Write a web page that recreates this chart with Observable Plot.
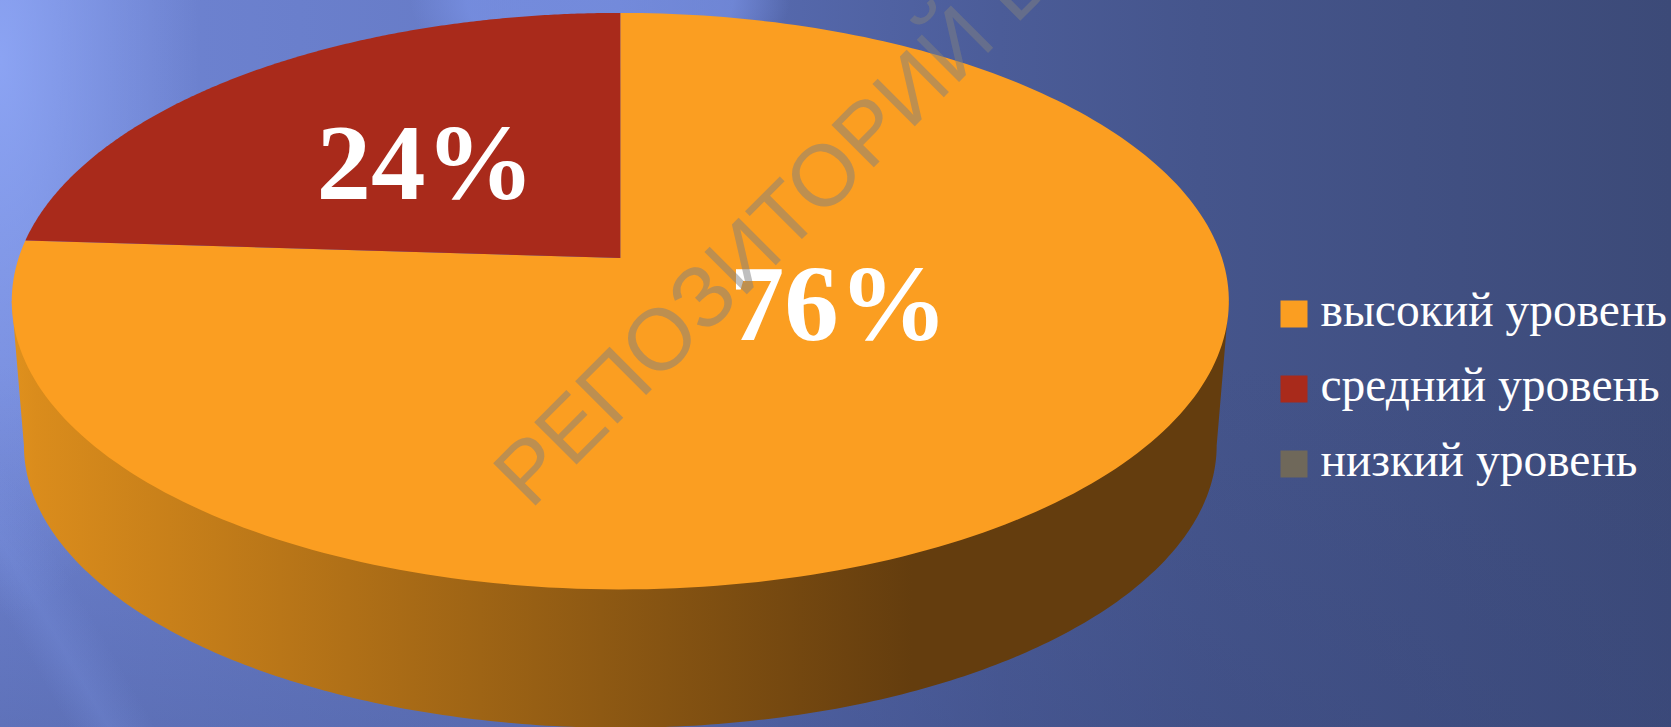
<!DOCTYPE html>
<html lang="ru">
<head>
<meta charset="utf-8">
<script src="https://cdn.jsdelivr.net/npm/d3@7"></script>
<script src="https://cdn.jsdelivr.net/npm/@observablehq/plot@0.6"></script>
<style>html,body{margin:0;padding:0;background:#3c4a78;overflow:hidden}svg{display:block}</style>
</head>
<body>
<div id="chart"></div>
<script>
const categories = ["высокий уровень", "средний уровень", "низкий уровень"];
const shares = [76, 24, 0];
const sliceColors = ["#fb9e21", "#a92a1b", "#6f685a"];
const watermark = "РЕПОЗИТОРИЙ БГПУ";

// perspective disc: unit circle seen from above, far side shrunk by k
const k = 0.1497, depth = 0.5146, lowerScale = 0.98;
const project = (deg, r = 1, s = 1, off = 0) => {
  const a = deg * Math.PI / 180, X = r * Math.sin(a), Y = r * Math.cos(a), p = 1 / (1 + k * Y);
  return {x: s * X * p, y: s * Y * p - off};
};
const arc = (a0, a1, s, off) => d3.range(0, 241).map(i => project(a0 + (a1 - a0) * i / 240, 1, s, off));

let acc = 0;
const slices = shares.map((v, i) => {
  const a0 = acc * 3.6; acc += v; const a1 = acc * 3.6;
  return {name: categories[i], value: v, color: sliceColors[i], mid: (a0 + a1) / 2, points: v > 0 ? arc(a0, a1, 1, 0) : []};
});
const rightA = Math.acos(-k) * 180 / Math.PI, leftA = 360 - rightA;
const wall = [project(rightA), ...arc(rightA, leftA, lowerScale, depth), project(leftA)];
const labelShift = [-62, 3, 0];

const defs = () => {
  const d = d3.create("svg:defs");
  const g = d.append("linearGradient").attr("id", "wallGrad").attr("x1", 0).attr("x2", 1).attr("y1", 0).attr("y2", 0);
  [[0, "#e0911d"], [0.02, "#da8c1c"], [0.74, "#643d0e"], [1, "#643d0e"]].forEach(([o, c]) =>
    g.append("stop").attr("offset", o).attr("stop-color", c));
  return d.node();
};

const legendMarks = categories.flatMap((c, i) => [
  Plot.dot([c], {frameAnchor: "top-left", dx: 1293.5, dy: 313.5 + 75 * i, r: 15.23, symbol: "square", fill: sliceColors[i]}),
  Plot.text([c], {frameAnchor: "top-left", dx: 1320, dy: 325 + 75 * i, textAnchor: "start", lineAnchor: "bottom",
    fontFamily: "Liberation Serif", fontSize: 47.5, fill: "white"})
]);

const chart = Plot.plot({
  width: 1671, height: 727, margin: 0,
  x: {axis: null, domain: [-620.3 / 601.7, 1050.7 / 601.7], range: [0, 1671]},
  y: {axis: null, domain: [-469 / 281.8, 258 / 281.8], range: [727, 0]},
  style: {
    background: [
      "linear-gradient(60deg, rgba(125,150,230,0) 60px, rgba(125,150,230,.25) 94px, rgba(125,150,230,0) 135px)",
      "radial-gradient(ellipse 200px 560px at 0px 60px, rgba(150,175,255,.72), rgba(150,175,255,0))",
      "radial-gradient(ellipse 190px 90px at 600px 0px, rgba(125,150,235,.6) 70%, rgba(125,150,235,0) 100%)",
      "linear-gradient(to bottom, rgba(55,70,125,0) 50%, rgba(55,70,125,.3) 100%)",
      "linear-gradient(90deg, #7085d4 0px, #6a7fcc 300px, #6478c2 620px, #5568ac 780px, #4b5c98 1000px, #45558c 1200px, #3c4a78 1671px)"
    ].join(",")
  },
  marks: [
    defs,
    Plot.area(wall, {x1: "x", y1: "y", x2: wall[0].x, y2: wall[0].y, fill: "url(#wallGrad)"}),
    ...slices.filter(s => s.value > 0).map(s =>
      Plot.area(s.points, {x1: "x", y1: "y", x2: 0, y2: 0, fill: s.color})),
    ...slices.filter(s => s.value > 0).map((s, i) =>
      Plot.text([s], {x: project(s.mid, 0.5).x, y: project(s.mid, 0.5).y, text: d => `${d.value}%`, dy: labelShift[i],
        fontFamily: "Liberation Serif", fontWeight: "bold", fontSize: 109, fill: "white", lineAnchor: "middle"})),
    ...legendMarks,
    Plot.text([watermark], {frameAnchor: "top-left", dx: 530, dy: 510, rotate: -45, textAnchor: "start", lineAnchor: "bottom",
      fontFamily: "Liberation Sans", fontSize: 87, fill: "#808080", fillOpacity: 0.5})
  ]
});
document.getElementById("chart").append(chart);
</script>
</body>
</html>
